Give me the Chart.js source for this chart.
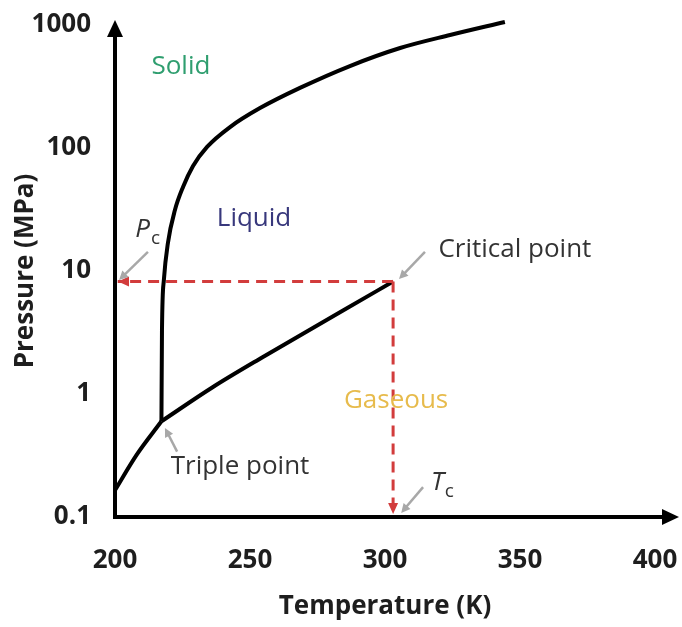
<!DOCTYPE html>
<html>
<head>
<meta charset="utf-8">
<script src="https://cdn.jsdelivr.net/npm/chart.js@4.4.1/dist/chart.umd.min.js"></script>
<style>
  html, body { margin: 0; padding: 0; background: #fff; }
</style>
</head>
<body>
<canvas id="phaseChart" width="682" height="627"></canvas>
<script>
const temperatureTicks = [200, 250, 300, 350, 400];
const pressureTicks = [0.1, 1, 10, 100, 1000];

// solid / gas boundary
const sublimationT = [200, 208, 217.2];
const sublimationP = [0.165, 0.32, 0.6];
// liquid / gas boundary, up to the critical point
const vaporT = [217.2, 236.3, 254.8, 284.6, 303];
const vaporP = [0.6, 1.14, 2.0, 4.8, 8.2];
// solid / liquid boundary
const meltingT = [217.2, 217.4, 218.1, 219.6, 222.2, 225.2, 228.9, 234.1, 242.6, 253.7, 268.5, 287, 305.6, 324.1, 344.4];
const meltingP = [0.6, 3.3, 8.45, 16.9, 31.3, 48.2, 71.4, 102, 148, 211, 308, 464, 650, 829, 1058];

const criticalT = 303;
const criticalP = 8.2;

const FONT = "'Open Sans', 'DejaVu Sans', sans-serif";

const toPoints = (xs, ys) => xs.map((x, i) => ({ x: x, y: ys[i] }));

// text and arrow annotations, anchored in data units
const notes = [
  { text: 'Solid', t: 224.4, p: 456, color: '#2f9e6f' },
  { text: 'Liquid', t: 251.5, p: 26.5, color: '#38387c' },
  { text: 'Gaseous', t: 304.1, p: 0.877, color: '#e7bb4c' },
  { text: 'Critical point', t: 348.1, p: 14.8, color: '#333' },
  { text: 'Triple point', t: 246.3, p: 0.255, color: '#333' }
];
const pointers = [
  { from: [212.2, 14.3], to: [201.5, 8.45] },   // Pc
  { from: [314.8, 14.3], to: [305.2, 8.6] },    // critical point
  { from: [223, 0.34], to: [218.5, 0.53] },     // triple point
  { from: [314.1, 0.175], to: [306, 0.108] }    // Tc
];

function arrowHead(ctx, tipX, tipY, dx, dy, len, half) {
  const bx = tipX - dx * len, by = tipY - dy * len;
  ctx.beginPath();
  ctx.moveTo(tipX, tipY);
  ctx.lineTo(bx - dy * half, by + dx * half);
  ctx.lineTo(bx + dy * half, by - dx * half);
  ctx.closePath();
  ctx.fill();
}

function subLabel(ctx, main, sub, x, y) {
  ctx.font = 'italic 26px ' + FONT;
  ctx.textAlign = 'left';
  ctx.textBaseline = 'alphabetic';
  ctx.fillText(main, x, y);
  const w = ctx.measureText(main).width;
  ctx.font = '19px ' + FONT;
  ctx.fillText(sub, x + w + 1, y + 7);
}

// keep the plot box where the reference has it, tick labels may overhang
function noScalePadding(s) {
  s.paddingTop = 0;
  s.paddingBottom = 0;
  s.paddingLeft = 0;
  s.paddingRight = 0;
}

const phaseDecor = {
  id: 'phaseDecor',
  beforeDatasetsDraw(chart) {
    const { ctx, chartArea: a } = chart;
    ctx.save();
    ctx.strokeStyle = '#000';
    ctx.fillStyle = '#000';
    ctx.lineWidth = 4;
    ctx.beginPath();
    ctx.moveTo(a.left, a.top + 8);
    ctx.lineTo(a.left, a.bottom);
    ctx.lineTo(a.right + 12, a.bottom);
    ctx.stroke();
    arrowHead(ctx, a.left, a.top - 5, 0, -1, 17, 8);
    arrowHead(ctx, a.right + 24, a.bottom, 1, 0, 17, 8);
    ctx.restore();
  },
  afterDatasetsDraw(chart) {
    const { ctx } = chart;
    const xs = chart.scales.x, ys = chart.scales.y;
    ctx.save();

    // red arrow heads of the dashed guides
    ctx.fillStyle = '#d23c3c';
    arrowHead(ctx, xs.getPixelForValue(200) + 3, ys.getPixelForValue(criticalP), -1, 0, 11, 5);
    arrowHead(ctx, xs.getPixelForValue(criticalT), ys.getPixelForValue(0.1) - 3, 0, 1, 11, 5);

    // grey pointers
    ctx.strokeStyle = '#a8a8a8';
    ctx.fillStyle = '#a8a8a8';
    ctx.lineWidth = 2.5;
    pointers.forEach(ptr => {
      const x0 = xs.getPixelForValue(ptr.from[0]), y0 = ys.getPixelForValue(ptr.from[1]);
      const x1 = xs.getPixelForValue(ptr.to[0]), y1 = ys.getPixelForValue(ptr.to[1]);
      const len = Math.hypot(x1 - x0, y1 - y0);
      const dx = (x1 - x0) / len, dy = (y1 - y0) / len;
      ctx.beginPath();
      ctx.moveTo(x0, y0);
      ctx.lineTo(x1 - dx * 6, y1 - dy * 6);
      ctx.stroke();
      arrowHead(ctx, x1, y1, dx, dy, 9, 4.5);
    });

    // region and point labels
    ctx.textAlign = 'center';
    ctx.textBaseline = 'middle';
    ctx.font = '26px ' + FONT;
    notes.forEach(n => {
      ctx.fillStyle = n.color;
      ctx.fillText(n.text, xs.getPixelForValue(n.t), ys.getPixelForValue(n.p));
    });

    ctx.fillStyle = '#333';
    subLabel(ctx, 'P', 'c', xs.getPixelForValue(207.5), ys.getPixelForValue(18.9));
    subLabel(ctx, 'T', 'c', xs.getPixelForValue(317), ys.getPixelForValue(0.166));
    ctx.restore();
  }
};

const lineStyle = { borderColor: '#000', borderWidth: 4, pointRadius: 0, fill: false, clip: false, cubicInterpolationMode: 'monotone' };
const dashStyle = { borderColor: '#d23c3c', borderWidth: 3, borderDash: [11, 7], pointRadius: 0, fill: false, clip: false, tension: 0 };

new Chart(document.getElementById('phaseChart'), {
  type: 'line',
  data: {
    datasets: [
      Object.assign({ label: 'Pc guide', data: toPoints([criticalT, 201], [criticalP, criticalP]) }, dashStyle),
      Object.assign({ label: 'Tc guide', data: toPoints([criticalT, criticalT], [criticalP, 0.105]) }, dashStyle),
      Object.assign({ label: 'Sublimation', data: toPoints(sublimationT, sublimationP) }, lineStyle),
      Object.assign({ label: 'Vaporization', data: toPoints(vaporT, vaporP) }, lineStyle),
      Object.assign({ label: 'Melting', data: toPoints(meltingT, meltingP) }, lineStyle)
    ]
  },
  options: {
    responsive: false,
    animation: false,
    layout: { padding: { top: 25, right: 27, bottom: 0, left: 0 } },
    plugins: { legend: { display: false }, tooltip: { enabled: false } },
    scales: {
      x: {
        type: 'linear',
        min: 200,
        max: 400,
        grid: { display: false, drawTicks: false },
        border: { display: false },
        afterBuildTicks: s => { s.ticks = temperatureTicks.map(v => ({ value: v })); },
        afterFit: s => { s.height = 110; noScalePadding(s); },
        ticks: { font: { family: FONT, size: 26, weight: 'bold' }, color: '#1e1e1e', padding: 28, maxRotation: 0 },
        title: { display: true, text: 'Temperature (K)', color: '#1e1e1e', font: { family: FONT, size: 26, weight: 'bold' }, padding: { top: 0, bottom: 5 } }
      },
      y: {
        type: 'logarithmic',
        min: 0.1,
        max: 1000,
        grid: { display: false, drawTicks: false },
        border: { display: false },
        afterBuildTicks: s => { s.ticks = pressureTicks.map(v => ({ value: v })); },
        afterFit: s => { s.width = 115; noScalePadding(s); },
        ticks: { font: { family: FONT, size: 26, weight: 'bold' }, color: '#1e1e1e', padding: 24, callback: v => String(v) },
        title: { display: true, text: 'Pressure (MPa)', color: '#1e1e1e', font: { family: FONT, size: 26, weight: 'bold' }, padding: { top: 10, bottom: 0 } }
      }
    }
  },
  plugins: [phaseDecor]
});
</script>
</body>
</html>
